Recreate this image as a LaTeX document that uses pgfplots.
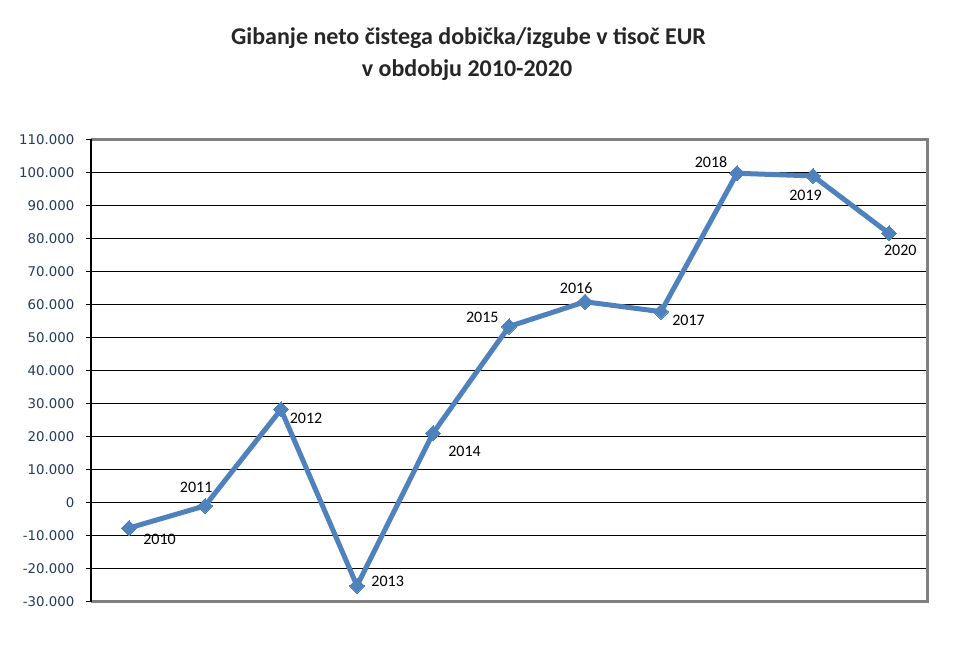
\documentclass[border=0pt]{standalone}
\usepackage{pgfplots}
\pgfplotsset{compat=1.18}
\usepackage{pgfplotstable}
\usepackage{fontspec}
\setmainfont{Carlito}
\newfontfamily\tickfont{DejaVu Sans}
\definecolor{lineblue}{HTML}{4F81BD}
\definecolor{tickcol}{HTML}{243A5E}
\definecolor{framegray}{HTML}{808080}
\definecolor{titlecol}{HTML}{262626}

\pgfplotstableread{
x y lab dx dy
0 -7700 2010 30.5 11.7
1 -1000 2011 -8.8 -18.3
2 28200 2012 25 9
3 -25200 2013 30.7 -4
4 21000 2014 31.6 18.4
5 53300 2015 -26.7 -9
6 60800 2016 -8.8 -14
7 57800 2017 27.6 8.3
8 99700 2018 -25.9 -11.6
9 98900 2019 -7.5 19.7
10 81500 2020 11.3 16.7
}\datatable

\begin{document}
\begin{tikzpicture}
\useasboundingbox (0,0) rectangle (718.5pt,489.75pt);
\node[anchor=base, font=\bfseries\fontsize{18}{22}\selectfont, text=titlecol] at (351.4pt,456pt) {Gibanje neto čistega dobička/izgube v tisoč EUR};
\node[anchor=base, font=\bfseries\fontsize{18}{22}\selectfont, text=titlecol] at (350.25pt,432.2pt) {v obdobju 2010-2020};
\begin{axis}[
  at={(68.25pt,38.5pt)}, anchor=south west,
  scale only axis, width=627pt, height=346.8pt,
  xmin=-0.5, xmax=10.5, ymin=-30000, ymax=110000,
  xtick=\empty,
  ytick distance=10000,
  scaled y ticks=false,
  /pgf/number format/fixed,
  /pgf/number format/1000 sep={.},
  /pgf/number format/assume math mode=true,
  every y tick label/.append style={font=\tickfont\fontsize{10}{12}\selectfont, text=tickcol, anchor=east, xshift=-5pt},
  ymajorgrids, grid style={black, line width=0.75pt},
  axis line style={draw=none},
  tick align=outside, ytick pos=left,
  major tick length=4pt,
  ytick style={black, line width=0.75pt},
  clip=false,
]
\draw[framegray, line width=2.25pt] (rel axis cs:0,0) -- (rel axis cs:1,0) -- (rel axis cs:1,1) -- (rel axis cs:0,1);
\draw[black, line width=1.5pt] (rel axis cs:0,0) -- (rel axis cs:0,1);
\addplot[
  color=lineblue, line width=3.75pt,
  mark=square*, mark size=4pt, mark options={fill=lineblue, draw=lineblue, line width=0pt, rotate=45},
  point meta=explicit symbolic,
  visualization depends on={\thisrow{dx} \as \dx},
  visualization depends on={\thisrow{dy} \as \dy},
  nodes near coords,
  nodes near coords style={anchor=center, font=\fontsize{12}{14}\selectfont, text=black, xshift={0.75pt*\dx}, yshift={-0.75pt*\dy}},
] table[x=x, y=y, meta=lab] {\datatable};
\end{axis}
\end{tikzpicture}
\end{document}
